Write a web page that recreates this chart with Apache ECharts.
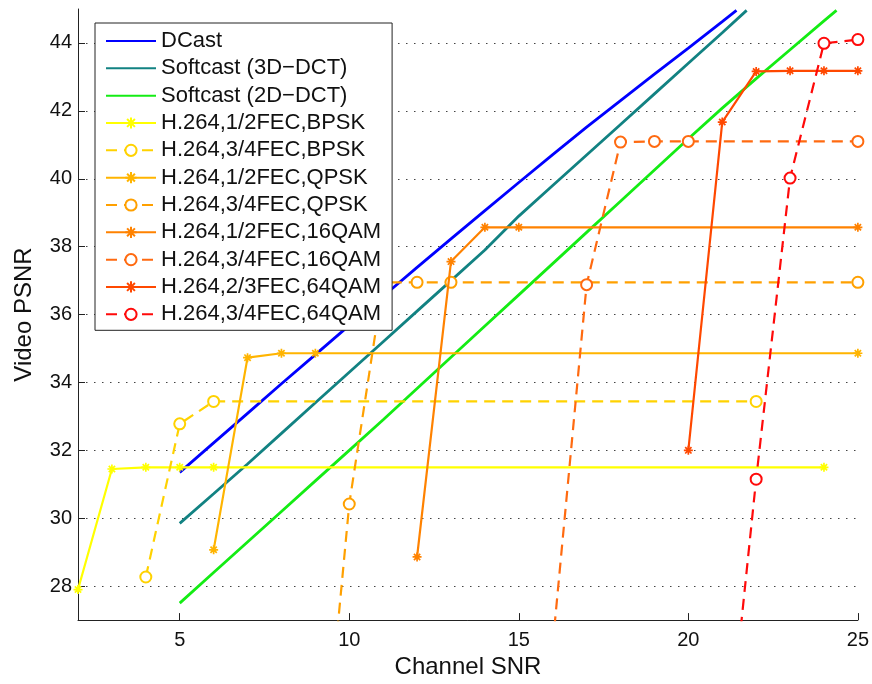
<!DOCTYPE html>
<html>
<head>
<meta charset="utf-8">
<script src="https://cdn.jsdelivr.net/npm/echarts@6/dist/echarts.min.js"></script>
<style>
  html, body { margin: 0; padding: 0; background: #fff; }
  #chart { width: 872px; height: 684px; }
</style>
</head>
<body>
<div id="chart"></div>
<script>
// ---------- data ----------
const xTicks = [5, 10, 15, 20, 25];
const yTicks = [28, 30, 32, 34, 36, 38, 40, 42, 44];

const seriesNames = [
  'DCast', 'Softcast (3D\u2212DCT)', 'Softcast (2D\u2212DCT)',
  'H.264,1/2FEC,BPSK', 'H.264,3/4FEC,BPSK',
  'H.264,1/2FEC,QPSK', 'H.264,3/4FEC,QPSK',
  'H.264,1/2FEC,16QAM', 'H.264,3/4FEC,16QAM',
  'H.264,2/3FEC,64QAM', 'H.264,3/4FEC,64QAM'
];

const dcastX = [5, 6, 7, 8, 9, 10, 11, 12, 13, 14, 15, 16, 17, 18, 19, 20, 21, 21.42];
const dcastY = [31.35, 32.22, 33.09, 33.96, 34.82, 35.68, 36.54, 37.39, 38.23, 39.06, 39.89, 40.71, 41.52, 42.3, 43.08, 43.85, 44.63, 44.96];

const soft3dX = [5, 6, 7, 8, 9, 10, 11, 12, 13, 14, 15, 16, 17, 18, 19, 20, 21, 21.72];
const soft3dY = [29.85, 30.72, 31.6, 32.5, 33.4, 34.3, 35.2, 36.1, 37.0, 37.9, 38.9, 39.8, 40.7, 41.6, 42.5, 43.4, 44.3, 44.96];

const soft2dX = [5, 6, 7, 8, 9, 10, 11, 12, 13, 14, 15, 16, 17, 18, 19, 20, 21, 22, 23, 24, 24.37];
const soft2dY = [27.5, 28.4, 29.3, 30.2, 31.1, 32.0, 32.9, 33.82, 34.74, 35.66, 36.58, 37.5, 38.42, 39.34, 40.26, 41.18, 42.08, 42.95, 43.8, 44.65, 44.96];

const bpsk12X = [2, 3, 4, 5, 6, 24];
const bpsk12Y = [27.9, 31.45, 31.5, 31.5, 31.5, 31.5];

const bpsk34X = [4, 5, 6, 22];
const bpsk34Y = [28.27, 32.78, 33.44, 33.44];

const qpsk12X = [6, 7, 8, 9, 25];
const qpsk12Y = [29.07, 34.73, 34.86, 34.86, 34.86];

const qpsk34X = [9, 10, 11, 12, 13, 25];
const qpsk34Y = [19.8, 30.42, 36.95, 36.95, 36.95, 36.95];

const qam16h12X = [12, 13, 14, 15, 25];
const qam16h12Y = [28.86, 37.56, 38.57, 38.57, 38.57];

const qam16h34X = [16, 17, 18, 19, 20, 25];
const qam16h34Y = [26.26, 36.88, 41.08, 41.1, 41.1, 41.1];

const qam64h23X = [20, 21, 22, 23, 24, 25];
const qam64h23Y = [32.0, 41.67, 43.16, 43.18, 43.18, 43.18];

const qam64h34X = [21, 22, 23, 24, 25];
const qam64h34Y = [21.5, 31.15, 40.02, 43.99, 44.1];

// ---------- styling ----------
const colors = ['#0000FF', '#128282', '#14EC14',
  '#FFFF00', '#FFD200', '#FFB400', '#FFA000', '#FF8200', '#FF6A10', '#FF4800', '#FF0A0A'];
const starPath = 'path://M0,5L10,5M5,0L5,10M1.5,1.5L8.5,8.5M1.5,8.5L8.5,1.5';

const xs = [dcastX, soft3dX, soft2dX, bpsk12X, bpsk34X, qpsk12X, qpsk34X, qam16h12X, qam16h34X, qam64h23X, qam64h34X];
const ys = [dcastY, soft3dY, soft2dY, bpsk12Y, bpsk34Y, qpsk12Y, qpsk34Y, qam16h12Y, qam16h34Y, qam64h23Y, qam64h34Y];

const FONT = '"Liberation Sans", Arial, Helvetica, sans-serif';

const series = seriesNames.map((name, i) => {
  const data = xs[i].map((x, k) => [x, ys[i][k]]);
  const isH = i >= 3;
  const dashed = isH && (i % 2 === 0);
  return {
    name: name,
    type: 'line',
    data: data,
    clip: true,
    showSymbol: isH,
    symbol: isH ? (dashed ? 'emptyCircle' : starPath) : 'none',
    symbolSize: isH ? (dashed ? 11 : 9) : 0,
    lineStyle: {
      color: colors[i],
      width: isH ? 2.2 : 2.8,
      type: dashed ? [11, 7] : 'solid'
    },
    itemStyle: {
      color: colors[i],
      borderColor: colors[i],
      borderWidth: dashed ? 2 : 1.7,
      opacity: isH ? 1 : 0
    },
    emphasis: { disabled: true },
    z: 2 + i * 0.01
  };
});

const chart = echarts.init(document.getElementById('chart'), null, { renderer: 'canvas' });
chart.setOption({
  animation: false,
  backgroundColor: '#fff',
  textStyle: { fontFamily: FONT },
  grid: { left: 78, right: 14, top: 9, bottom: 60, containLabel: false },
  legend: {
    data: seriesNames,
    orient: 'vertical',
    left: 95,
    top: 23,
    padding: [6, 11, 4, 10],
    itemGap: 3.33,
    itemWidth: 50,
    itemHeight: 14,
    backgroundColor: '#fff',
    borderColor: '#222',
    borderWidth: 1,
    selectedMode: false,
    textStyle: { fontSize: 22, lineHeight: 24, color: '#111', fontFamily: FONT }
  },
  xAxis: {
    type: 'value',
    min: 2,
    max: 25,
    name: 'Channel SNR',
    nameLocation: 'middle',
    nameGap: 32,
    nameTextStyle: { fontSize: 24, color: '#111', fontFamily: FONT },
    axisLine: { show: true, lineStyle: { color: '#222', width: 1 } },
    axisTick: { show: true, inside: true, length: 7, customValues: xTicks, lineStyle: { color: '#222' } },
    axisLabel: { customValues: xTicks, fontSize: 20, color: '#111', margin: 10, fontFamily: FONT },
    splitLine: { show: false }
  },
  yAxis: {
    type: 'value',
    min: 27,
    max: 45,
    name: 'Video PSNR',
    nameLocation: 'middle',
    nameGap: 42,
    nameTextStyle: { fontSize: 24, color: '#111', fontFamily: FONT },
    axisLine: { show: true, lineStyle: { color: '#222', width: 1 } },
    axisTick: { show: true, inside: true, length: 7, customValues: yTicks, lineStyle: { color: '#222' } },
    axisLabel: { customValues: yTicks, fontSize: 20, color: '#111', margin: 6, fontFamily: FONT },
    splitLine: { show: true, lineStyle: { color: '#444', width: 1, type: [1.5, 6.5] } }
  },
  series: series
});
</script>
</body>
</html>
